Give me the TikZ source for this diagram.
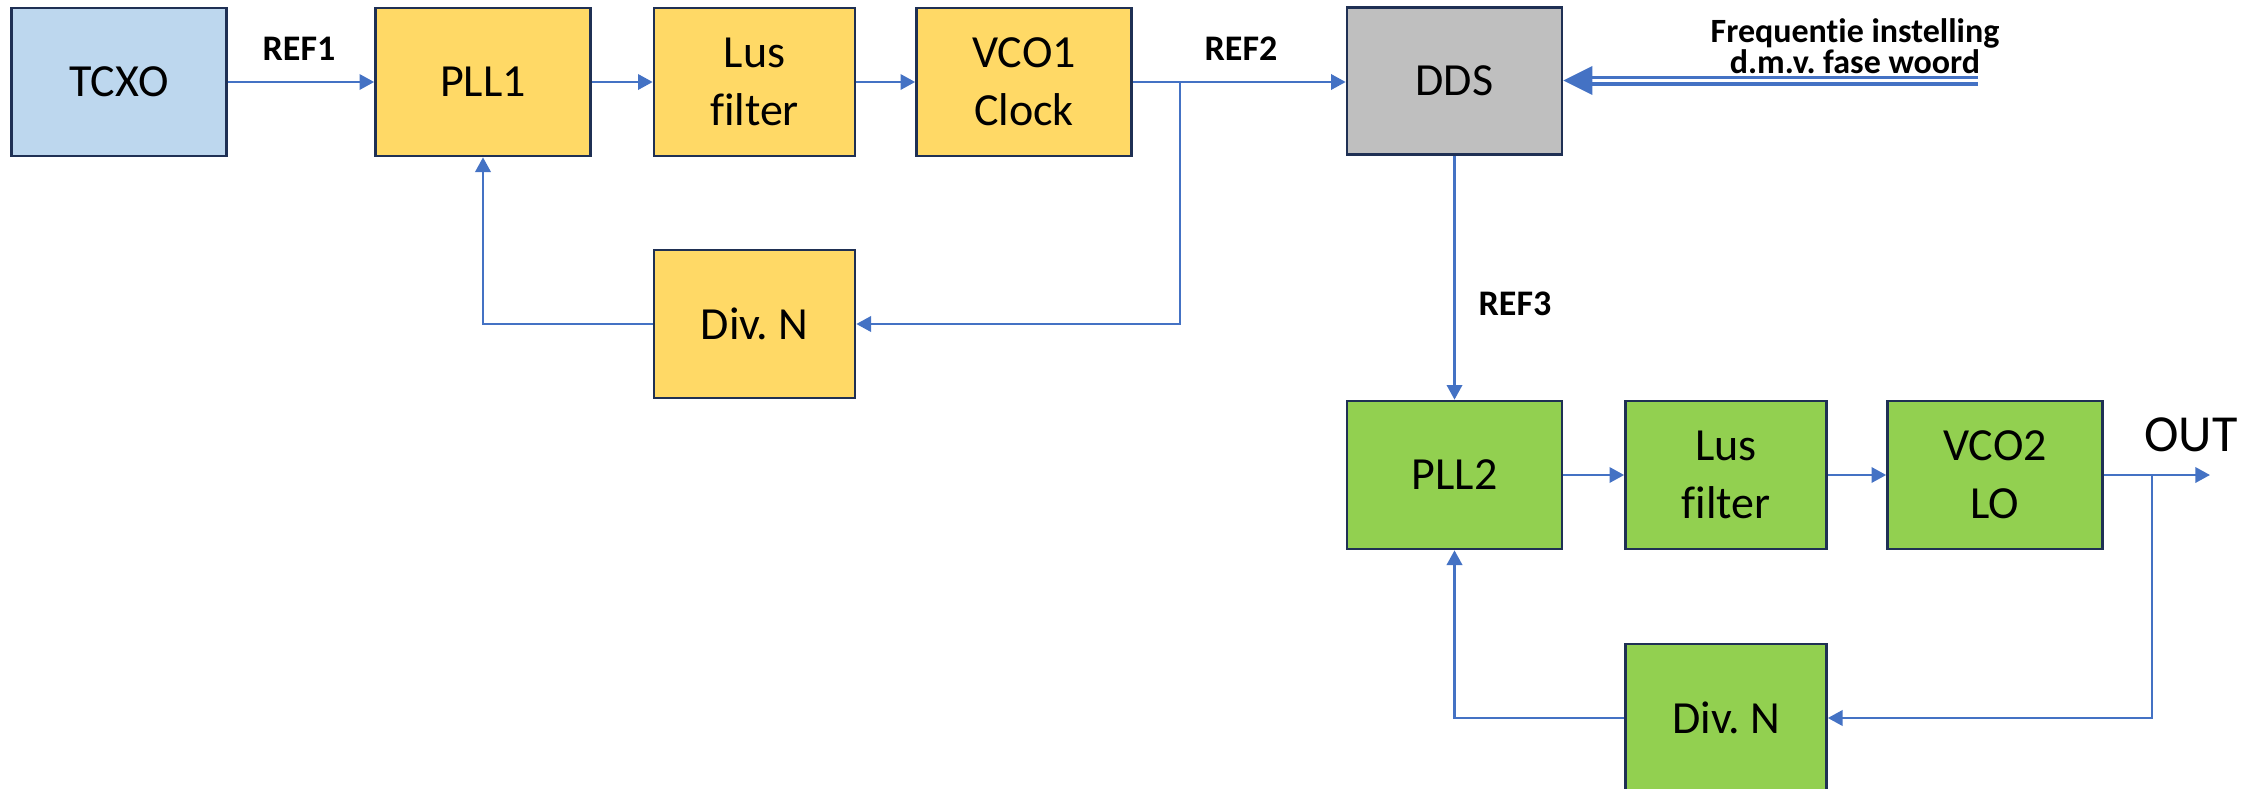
\documentclass[tikz,border=0pt]{standalone}
\usepackage{fontspec}
\setmainfont{Carlito}[Ligatures=NoCommon]
\usetikzlibrary{arrows.meta}
\frenchspacing

\definecolor{edgeblue}{HTML}{4472C4}
\definecolor{boxline}{HTML}{1F3054}
\definecolor{tcxofill}{HTML}{BDD7EE}
\definecolor{pllfill}{HTML}{FFD966}
\definecolor{ddsfill}{HTML}{BFBFBF}
\definecolor{lofill}{HTML}{92D050}

\begin{document}
\begin{tikzpicture}[x=0.75pt, y=-0.75pt,
  block/.style={draw=boxline, line width=2pt, inner sep=0pt, align=center,
    minimum width=161.25pt, minimum height=111pt,
    font=\fontsize{34.5}{43.5}\selectfont},
  narrow/.style={block, minimum width=150.75pt},
  conn/.style={draw=edgeblue, line width=1.9pt, -{Triangle[length=11pt,width=11.5pt]}},
  tag/.style={font=\fontsize{27}{32}\bfseries\selectfont, inner sep=0pt, anchor=base},
  freq/.style={font=\fontsize{25.5}{22}\bfseries\selectfont, inner sep=0pt, anchor=base},
]
\path[use as bounding box, clip] (0,0) rectangle (2264,789);

% reference chain
\node[block, fill=tcxofill] (tcxo) at (119,82) {TCXO};
\node[block, fill=pllfill] (pll1) at (483,82) {PLL1};
\node[narrow, fill=pllfill] (lus1) at (754.5,82) {Lus\\filter};
\node[block, fill=pllfill] (vco1) at (1024,82) {VCO1\\Clock};
\node[block, fill=ddsfill, minimum height=110.25pt] (dds) at (1454.5,81) {DDS};
\node[narrow, fill=pllfill] (div1) at (754.5,324) {Div. N};

% local oscillator loop
\node[block, fill=lofill] (pll2) at (1454.5,475) {PLL2};
\node[narrow, fill=lofill] (lus2) at (1726,475) {Lus\\filter};
\node[block, fill=lofill] (vco2) at (1995,475) {VCO2\\LO};
\node[narrow, fill=lofill] (div2) at (1726,718) {Div. N};

% labels
\node[tag] (ref1) at (299,60) {REF1};
\node[tag] (ref2) at (1241,60) {REF2};
\node[tag] (ref3) at (1515,315) {REF3};
\node[font=\fontsize{39}{47}\selectfont, inner sep=0pt, anchor=base] (outlbl) at (2191,451) {OUT};
\node[freq] (freq1) at (1855,42) {Frequentie instelling};
\node[freq] (freq2) at (1855,73) {d.m.v. fase woord};

% first loop
\draw[conn] (tcxo) -- (pll1);
\draw[conn] (pll1) -- (lus1);
\draw[conn] (lus1) -- (vco1);
\draw[conn] (vco1.east) -- (vco1.east -| dds.west);
\coordinate (br1) at (1180,82);
\draw[conn] (br1) |- (div1.east);
\draw[conn] (div1.west) -| (pll1.south);

% DDS to second loop
\draw[conn] (dds) -- (pll2);
\draw[conn] (pll2) -- (lus2);
\draw[conn] (lus2) -- (vco2);
\coordinate (outend) at (2210,475);
\draw[conn] (vco2.east) -- (outend);
\coordinate (br2) at (2152,475);
\draw[conn] (br2) |- (div2.east);
\draw[conn] (div2.west) -| (pll2.south);

% phase word bus into the DDS
\coordinate (fw) at (1978,80.5);
\draw[edgeblue, line width=2.5pt, double=white, double distance=2.5pt]
  (fw) -- ([xshift=21.75pt]dds.east |- fw);
\fill[edgeblue] (dds.east |- fw) -- ++(21.75pt,10.9pt) -- ++(0,-21.8pt) -- cycle;
\end{tikzpicture}
\end{document}
